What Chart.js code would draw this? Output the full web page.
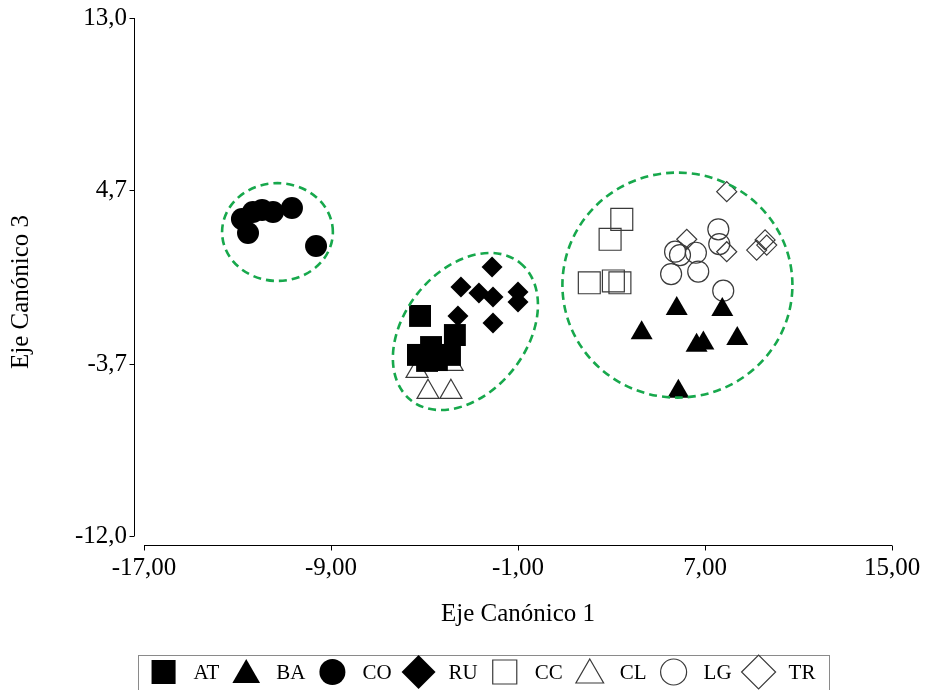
<!DOCTYPE html>
<html>
<head>
<meta charset="utf-8">
<script src="https://cdn.jsdelivr.net/npm/chart.js@4.4.1/dist/chart.umd.min.js"></script>
<style>
  html, body { margin: 0; padding: 0; background: #fff; }
</style>
</head>
<body>
<canvas id="chart" width="926" height="690"></canvas>
<script>
// 1. Data (Eje Canónico 1 = x, Eje Canónico 3 = y)
const groupNames = ['AT', 'BA', 'CO', 'RU', 'CC', 'CL', 'LG', 'TR'];
const xTickValues = [-17, -9, -1, 7, 15];
const yTickValues = [-12.0, -3.7, 4.7, 13.0];

const atX = [-5.19, -3.70, -5.28, -4.72, -4.89, -4.47, -3.91];
const atY = [-1.38, -2.30, -3.26, -2.88, -3.55, -3.51, -3.26];
const baX = [5.79, 7.74, 4.29, 6.64, 6.93, 8.38, 5.86];
const baY = [-1.03, -1.08, -2.20, -2.80, -2.69, -2.48, -5.02];
const coX = [-12.81, -12.34, -11.95, -11.48, -10.67, -12.55, -9.64];
const coY = [3.30, 3.64, 3.73, 3.64, 3.83, 2.62, 2.00];
const ruX = [-2.11, -3.44, -2.67, -2.07, -1.00, -1.00, -3.57, -2.07];
const ruY = [0.98, 0.02, -0.27, -0.47, -0.22, -0.71, -1.38, -1.72];
const ccX = [3.44, 2.94, 2.05, 3.08, 3.36];
const ccY = [3.28, 2.32, 0.22, 0.31, 0.22];
const clX = [-5.32, -4.85, -3.87, -3.82];
const clY = [-4.04, -5.05, -5.05, -3.70];
const lgX = [7.57, 7.61, 5.72, 5.93, 6.61, 5.55, 6.71, 7.78];
const lgY = [2.80, 2.09, 1.72, 1.56, 1.67, 0.64, 0.76, -0.16];
const trX = [7.93, 6.22, 7.93, 9.21, 9.57, 9.64];
const trY = [4.62, 2.32, 1.72, 1.80, 2.29, 2.04];

// group ellipses: centre, end of one semi-axis, end of the other (data units)
const ellipseCentres = [[-11.29, 2.67], [-3.25, -2.13], [5.82, 0.11]];
const ellipseAxisA = [[-8.92, 2.67], [-0.92, 1.19], [10.74, 0.11]];
const ellipseAxisB = [[-11.29, 5.03], [-1.20, -3.96], [5.82, 5.54]];

// 2. Helpers
const toPoints = (xs, ys) => xs.map((x, i) => ({ x: x, y: ys[i] }));
const commaFixed = (v, d) => Number(v).toFixed(d).replace('.', ',');
const SERIF = '"Liberation Serif", "Times New Roman", serif';

const FILLED = '#000000';
const OPEN_FILL = 'rgba(0,0,0,0)';
const OPEN_LINE = '#3a3a3a';

function makeSet(label, xs, ys, style, radius, open) {
    return {
        label: label,
        data: toPoints(xs, ys),
        pointStyle: style,
        pointRadius: radius,
        pointBackgroundColor: open ? OPEN_FILL : FILLED,
        pointBorderColor: open ? OPEN_LINE : FILLED,
        pointBorderWidth: open ? 1.2 : 0,
        showLine: false
    };
}

const datasets = [
    makeSet('AT', atX, atY, 'rect', 15.5, false),
    makeSet('BA', baX, baY, 'triangle', 12.7, false),
    makeSet('CO', coX, coY, 'circle', 11, false),
    makeSet('RU', ruX, ruY, 'rectRot', 10.5, false),
    makeSet('CC', ccX, ccY, 'rect', 15.5, true),
    makeSet('CL', clX, clY, 'triangle', 12.7, true),
    makeSet('LG', lgX, lgY, 'circle', 10.5, true),
    makeSet('TR', trX, trY, 'rectRot', 10, true)
];

// 3. Plugins: detached axes, titles, ellipses and boxed legend
const ellipsePlugin = {
    id: 'groupEllipses',
    afterDatasetsDraw(chart) {
        const { ctx, scales: { x, y } } = chart;
        ctx.save();
        ctx.strokeStyle = '#17a84c';
        ctx.lineWidth = 2.6;
        ctx.setLineDash([8, 5]);
        ellipseCentres.forEach((c, i) => {
            const cx = x.getPixelForValue(c[0]), cy = y.getPixelForValue(c[1]);
            const ax = x.getPixelForValue(ellipseAxisA[i][0]) - cx;
            const ay = y.getPixelForValue(ellipseAxisA[i][1]) - cy;
            const bx = x.getPixelForValue(ellipseAxisB[i][0]) - cx;
            const by = y.getPixelForValue(ellipseAxisB[i][1]) - cy;
            ctx.beginPath();
            ctx.save();
            ctx.transform(ax, ay, bx, by, cx, cy);
            ctx.arc(0, 0, 1, 0, Math.PI * 2);
            ctx.restore();
            ctx.stroke();
        });
        ctx.restore();
    }
};

const framePlugin = {
    id: 'frame',
    afterDraw(chart) {
        const { ctx, chartArea, scales: { x, y } } = chart;
        ctx.save();
        ctx.strokeStyle = '#000';
        ctx.lineWidth = 1;

        // y axis, pulled left of the plot
        const ax = Math.round(chartArea.left - 10) + 0.5;
        ctx.beginPath();
        ctx.moveTo(ax, y.getPixelForValue(yTickValues[0]));
        ctx.lineTo(ax, y.getPixelForValue(yTickValues[yTickValues.length - 1]));
        yTickValues.forEach(v => {
            const py = Math.round(y.getPixelForValue(v)) + 0.5;
            ctx.moveTo(ax - 5, py);
            ctx.lineTo(ax, py);
        });
        ctx.stroke();

        // x axis, pushed below the plot
        const ay = Math.round(chartArea.bottom + 9) + 0.5;
        ctx.beginPath();
        ctx.moveTo(x.getPixelForValue(xTickValues[0]), ay);
        ctx.lineTo(x.getPixelForValue(xTickValues[xTickValues.length - 1]), ay);
        xTickValues.forEach(v => {
            const px = Math.round(x.getPixelForValue(v)) + 0.5;
            ctx.moveTo(px, ay);
            ctx.lineTo(px, ay + 5);
        });
        ctx.stroke();

        // axis titles
        ctx.fillStyle = '#000';
        ctx.font = '25px ' + SERIF;
        ctx.textAlign = 'center';
        ctx.textBaseline = 'middle';
        ctx.fillText('Eje Canónico 1', (chartArea.left + chartArea.right) / 2, 614);
        ctx.save();
        ctx.translate(21, 292);
        ctx.rotate(-Math.PI / 2);
        ctx.fillText('Eje Canónico 3', 0, 0);
        ctx.restore();

        // legend row in a grey box
        const boxL = 138, boxR = 829, boxT = 655.5, midY = 672;
        ctx.strokeStyle = '#8a8a8a';
        ctx.strokeRect(boxL + 0.5, boxT, boxR - boxL, 40);
        ctx.font = '21px ' + SERIF;
        const markW = 24, gapA = 18, gapB = 15;
        const widths = chart.data.datasets.map(ds => ctx.measureText(ds.label).width);
        const total = widths.reduce((s, w) => s + markW + gapA + w, 0) + gapB * (widths.length - 1);
        let cur = (boxL + boxR) / 2 - total / 2;
        chart.data.datasets.forEach((ds, i) => {
            const open = ds.pointBorderWidth > 0;
            const r = { rect: 17, triangle: 16, circle: 13, rectRot: 17 }[ds.pointStyle];
            ctx.fillStyle = ds.pointBackgroundColor;
            ctx.strokeStyle = ds.pointBorderColor;
            ctx.lineWidth = 1.2;
            Chart.helpers.drawPoint(ctx, {
                pointStyle: ds.pointStyle, rotation: 0, radius: r, borderWidth: open ? 1.2 : 0
            }, cur + markW / 2, ds.pointStyle === 'triangle' ? midY + 3 : midY);
            cur += markW + gapA;
            ctx.fillStyle = '#000';
            ctx.textAlign = 'left';
            ctx.fillText(ds.label, cur, midY + 1);
            cur += widths[i] + gapB;
        });
        ctx.restore();
    }
};

// 4. Chart
const tickFont = { family: SERIF, size: 25 };

new Chart(document.getElementById('chart'), {
    type: 'scatter',
    data: { datasets: datasets },
    options: {
        responsive: false,
        animation: false,
        events: [],
        layout: { padding: { top: 18, right: 34, bottom: 94, left: 0 } },
        plugins: { legend: { display: false }, tooltip: { enabled: false } },
        scales: {
            x: {
                type: 'linear',
                min: xTickValues[0],
                max: xTickValues[xTickValues.length - 1],
                afterBuildTicks: s => { s.ticks = xTickValues.map(v => ({ value: v })); },
                afterFit: s => { s.height = 60; s.paddingLeft = 0; s.paddingRight = 0; },
                border: { display: false },
                grid: { display: false, drawTicks: false },
                ticks: {
                    font: tickFont, color: '#000', padding: 17,
                    autoSkip: false, maxRotation: 0,
                    callback: v => commaFixed(v, 2)
                }
            },
            y: {
                type: 'linear',
                min: yTickValues[0],
                max: yTickValues[yTickValues.length - 1],
                afterBuildTicks: s => { s.ticks = yTickValues.map(v => ({ value: v })); },
                afterFit: s => { s.width = 144; s.paddingTop = 0; s.paddingBottom = 0; },
                border: { display: false },
                grid: { display: false, drawTicks: false },
                ticks: {
                    font: tickFont, color: '#000', padding: 17,
                    callback: v => commaFixed(v, 1)
                }
            }
        }
    },
    plugins: [ellipsePlugin, framePlugin]
});
</script>
</body>
</html>
